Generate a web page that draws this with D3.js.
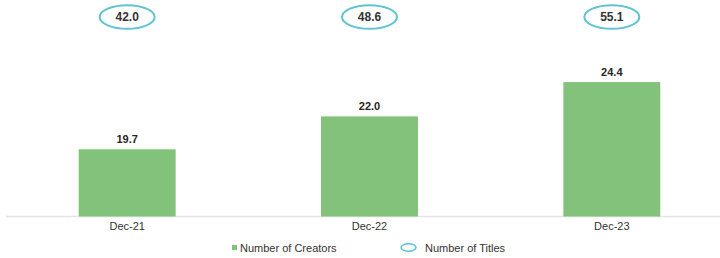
<!DOCTYPE html>
<html>
<head>
<meta charset="utf-8">
<script src="https://cdn.jsdelivr.net/npm/d3@7"></script>
<style>
  html, body { margin: 0; padding: 0; background: #fff; }
  svg { display: block; font-family: "Liberation Sans", Arial, sans-serif; }
</style>
</head>
<body>
<svg id="chart" width="720" height="258"></svg>
<script>
const categories = ["Dec-21", "Dec-22", "Dec-23"];
const creators = [19.7, 22.0, 24.4];
const titles = [42.0, 48.6, 55.1];
const legendLabels = ["Number of Creators", "Number of Titles"];

const svg = d3.select("#chart");
const green = "#82c27a";
const cyan = "#5ec4d2";

const x = d3.scaleBand().domain(categories).range([6, 733]).paddingInner(0.6).paddingOuter(0.3);
const y = d3.scaleLinear().domain([15, 30]).range([216.5, 2]);

// axis line
svg.append("line").attr("x1", 6).attr("x2", 720).attr("y1", 216.5).attr("y2", 216.5)
  .attr("stroke", "#e4e4e4").attr("stroke-width", 1.5);

// bars
svg.selectAll("rect.bar").data(categories).join("rect")
  .attr("class", "bar")
  .attr("x", d => x(d))
  .attr("width", x.bandwidth())
  .attr("y", (d, i) => y(creators[i]))
  .attr("height", (d, i) => y.range()[0] - y(creators[i]))
  .attr("fill", green);

// bar labels
svg.selectAll("text.val").data(categories).join("text")
  .attr("class", "val")
  .attr("x", d => x(d) + x.bandwidth() / 2)
  .attr("y", (d, i) => y(creators[i]) - 6)
  .attr("text-anchor", "middle")
  .attr("font-size", 11).attr("font-weight", "bold").attr("fill", "#262626")
  .text((d, i) => creators[i].toFixed(1));

// category axis labels
const xAxis = d3.axisBottom(x).tickSize(0).tickPadding(0);
const gx = svg.append("g").attr("transform", "translate(0,222)").call(xAxis);
gx.select(".domain").remove();
gx.selectAll("text").attr("font-size", 11).attr("fill", "#333")
  .attr("font-family", "Liberation Sans, Arial, sans-serif").attr("dy", "0.71em");

// title ellipses
const eg = svg.selectAll("g.ell").data(categories).join("g")
  .attr("class", "ell")
  .attr("transform", d => `translate(${x(d) + x.bandwidth() / 2},17)`);
eg.append("ellipse").attr("rx", 27.5).attr("ry", 11.8)
  .attr("fill", "none").attr("stroke", cyan).attr("stroke-width", 2);
eg.append("text").attr("text-anchor", "middle").attr("dy", "0.36em")
  .attr("font-size", 12).attr("font-weight", "bold").attr("fill", "#333")
  .text((d, i) => titles[i].toFixed(1));

// legend
svg.append("rect").attr("x", 232).attr("y", 245).attr("width", 5).attr("height", 5).attr("fill", green);
svg.append("text").attr("x", 240).attr("y", 251.5).attr("font-size", 11).attr("fill", "#333").text(legendLabels[0]);
svg.append("ellipse").attr("cx", 408.5).attr("cy", 247.5).attr("rx", 7.5).attr("ry", 3.8)
  .attr("fill", "none").attr("stroke", cyan).attr("stroke-width", 1.5);
svg.append("text").attr("x", 425).attr("y", 251.5).attr("font-size", 11).attr("fill", "#333").text(legendLabels[1]);
</script>
</body>
</html>
